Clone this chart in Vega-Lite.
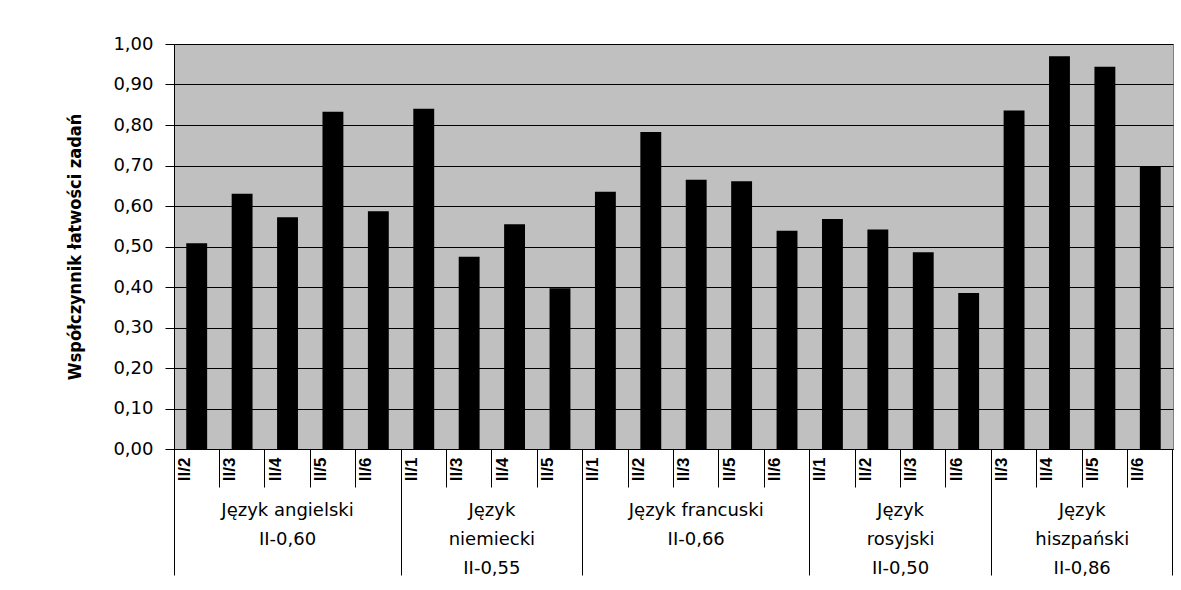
{
  "$schema": "https://vega.github.io/schema/vega-lite/v6.json",
  "width": 999,
  "height": 405,
  "autosize": "none",
  "padding": {"left": 174, "top": 44, "right": 8, "bottom": 141},
  "background": "white",
  "config": {
    "view": {"fill": "#C0C0C0", "stroke": "#808080"},
    "axis": {"labelColor": "black", "domainColor": "black", "tickColor": "black", "titleColor": "black"}
  },
  "data": {
    "values": [
      {"group": "Język angielski|II-0,60", "task": "II/2", "value": 0.508},
      {"group": "Język angielski|II-0,60", "task": "II/3", "value": 0.630},
      {"group": "Język angielski|II-0,60", "task": "II/4", "value": 0.572},
      {"group": "Język angielski|II-0,60", "task": "II/5", "value": 0.833},
      {"group": "Język angielski|II-0,60", "task": "II/6", "value": 0.587},
      {"group": "Język|niemiecki|II-0,55", "task": "II/1", "value": 0.840},
      {"group": "Język|niemiecki|II-0,55", "task": "II/3", "value": 0.475},
      {"group": "Język|niemiecki|II-0,55", "task": "II/4", "value": 0.555},
      {"group": "Język|niemiecki|II-0,55", "task": "II/5", "value": 0.397},
      {"group": "Język francuski|II-0,66", "task": "II/1", "value": 0.635},
      {"group": "Język francuski|II-0,66", "task": "II/2", "value": 0.783},
      {"group": "Język francuski|II-0,66", "task": "II/3", "value": 0.665},
      {"group": "Język francuski|II-0,66", "task": "II/5", "value": 0.661},
      {"group": "Język francuski|II-0,66", "task": "II/6", "value": 0.539},
      {"group": "Język|rosyjski|II-0,50", "task": "II/1", "value": 0.568},
      {"group": "Język|rosyjski|II-0,50", "task": "II/2", "value": 0.542},
      {"group": "Język|rosyjski|II-0,50", "task": "II/3", "value": 0.486},
      {"group": "Język|rosyjski|II-0,50", "task": "II/6", "value": 0.385},
      {"group": "Język|hiszpański|II-0,86", "task": "II/3", "value": 0.836},
      {"group": "Język|hiszpański|II-0,86", "task": "II/4", "value": 0.970},
      {"group": "Język|hiszpański|II-0,86", "task": "II/5", "value": 0.944},
      {"group": "Język|hiszpański|II-0,86", "task": "II/6", "value": 0.697}
    ]
  },
  "transform": [{"calculate": "datum.group + '#' + datum.task", "as": "key"}],
  "layer": [
    {
      "mark": {"type": "bar", "color": "black", "width": {"band": 0.46}},
      "encoding": {
        "x": {
          "field": "key", "type": "nominal", "sort": null,
          "scale": {"paddingInner": 0, "paddingOuter": 0},
          "axis": {
            "orient": "bottom",
            "title": null, "bandPosition": 0, "labelExpr": "split(datum.label, '#')[1]",
            "labelAngle": -90, "labelOffset": -12, "tickSize": 38, "labelPadding": -30,
            "labelFont": "Liberation Sans", "labelFontWeight": "bold", "labelFontSize": 17,
            "labelOverlap": false, "domainWidth": 1, "tickWidth": 1
          }
        },
        "y": {
          "field": "value", "type": "quantitative",
          "scale": {"domain": [0, 1]},
          "axis": {
            "title": "Współczynnik łatwości zadań", "tickCount": 10,
            "labelExpr": "replace(format(datum.value, '.2f'), '.', ',')",
            "labelFont": "DejaVu Sans", "labelFontSize": 18, "tickSize": 9, "labelPadding": 12,
            "gridColor": "black", "gridWidth": 1, "gridOpacity": 1,
            "titleFont": "'DejaVu Sans Condensed', 'Liberation Sans'", "titleFontWeight": "bold", "titleFontSize": 18,
            "titlePadding": 28
          }
        }
      }
    },
    {
      "mark": {"type": "point", "opacity": 0},
      "encoding": {
        "x": {
          "field": "key", "type": "nominal", "sort": null,
          "axis": {
            "orient": "bottom",
            "title": null, "bandPosition": 0, "labels": false, "domain": false, "tickSize": 126,
            "values": ["Język angielski|II-0,60#II/2", "Język|niemiecki|II-0,55#II/1", "Język francuski|II-0,66#II/1", "Język|rosyjski|II-0,50#II/1", "Język|hiszpański|II-0,86#II/3"]
          }
        }
      }
    },
    {
      "mark": {"type": "point", "opacity": 0},
      "encoding": {
        "x": {
          "field": "key", "type": "nominal", "sort": null,
          "axis": {
            "orient": "bottom",
            "title": null, "bandPosition": 1, "labels": false, "domain": false, "tickSize": 126,
            "values": ["Język|hiszpański|II-0,86#II/6"]
          }
        }
      }
    },
    {
      "mark": {"type": "point", "opacity": 0},
      "encoding": {
        "x": {
          "field": "key", "type": "nominal", "sort": null,
          "axis": {
            "orient": "bottom",
            "title": null, "ticks": false, "domain": false,
            "labelExpr": "split(split(datum.label, '#')[0], '|')",
            "labelAngle": 0, "labelAlign": "center", "labelBaseline": "top", "labelPadding": 52,
            "labelLineHeight": 29, "labelFont": "DejaVu Sans", "labelFontSize": 18, "labelLimit": 400, "labelOverlap": false,
            "values": ["Język angielski|II-0,60#II/4", "Język francuski|II-0,66#II/3"]
          }
        }
      }
    },
    {
      "mark": {"type": "point", "opacity": 0},
      "encoding": {
        "x": {
          "field": "key", "type": "nominal", "sort": null,
          "axis": {
            "orient": "bottom",
            "title": null, "ticks": false, "domain": false, "labelOffset": -22.7,
            "labelExpr": "split(split(datum.label, '#')[0], '|')",
            "labelAngle": 0, "labelAlign": "center", "labelBaseline": "top", "labelPadding": 52,
            "labelLineHeight": 29, "labelFont": "DejaVu Sans", "labelFontSize": 18, "labelLimit": 400, "labelOverlap": false,
            "values": ["Język|niemiecki|II-0,55#II/4", "Język|rosyjski|II-0,50#II/3", "Język|hiszpański|II-0,86#II/5"]
          }
        }
      }
    }
  ],
  "resolve": {"axis": {"x": "independent"}}
}
